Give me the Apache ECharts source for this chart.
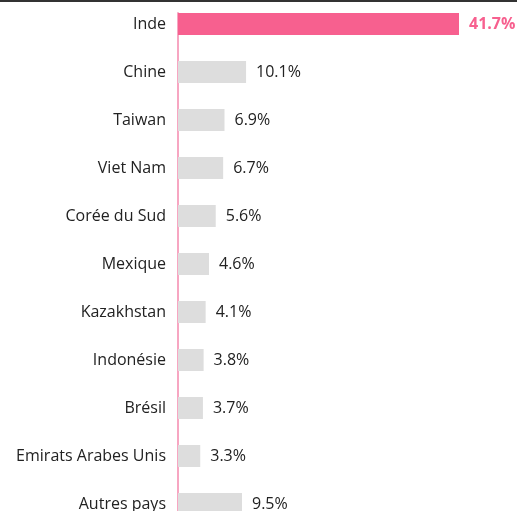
<!DOCTYPE html>
<html><head><meta charset="utf-8">
<script src="https://cdn.jsdelivr.net/npm/echarts@6/dist/echarts.min.js"></script>
<style>html,body{margin:0;padding:0;background:#fff}#c{width:517px;height:511px}</style>
</head><body><div id="c"></div>
<script>
const categories = ["Inde","Chine","Taiwan","Viet Nam","Corée du Sud","Mexique","Kazakhstan","Indonésie","Brésil","Emirats Arabes Unis","Autres pays"];
const values = [41.7,10.1,6.9,6.7,5.6,4.6,4.1,3.8,3.7,3.3,9.5];
const highlight = "Inde";

const chart = echarts.init(document.getElementById('c'), null, {renderer:'canvas'});
const font = '"Open Sans", sans-serif';
chart.setOption({
  animation:false,
  grid:[
    {left:178, top:0, width:281, height:528, outerBoundsMode:'none', containLabel:false},
    {left:178, top:13, width:281, height:520, outerBoundsMode:'none', containLabel:false}
  ],
  xAxis:[
    {gridIndex:0, type:'value', min:0, max:41.7, show:false},
    {gridIndex:1, type:'value', min:0, max:1, show:false}
  ],
  yAxis:[
    {gridIndex:0, type:'category', data:categories, inverse:true,
     axisLine:{show:false}, axisTick:{show:false},
     axisLabel:{margin:12, color:'#222', fontSize:16, fontFamily:font}},
    {gridIndex:1, type:'value', min:0, max:1, axisLabel:{show:false}, axisTick:{show:false}, splitLine:{show:false},
     axisLine:{show:true, lineStyle:{color:'#f7a6c2', width:2}}}
  ],
  series:[{
    type:'bar', xAxisIndex:0, yAxisIndex:0, barWidth:22,
    data: values.map((v,i)=>({value:v,
      itemStyle:{color: categories[i]===highlight ? '#f7608f' : '#dddddd'},
      label: categories[i]===highlight ? {color:'#f7608f', fontWeight:'bold'} : {}
    })),
    label:{show:true, position:'right', distance:10, color:'#222', fontSize:16, fontFamily:font,
      formatter:p=>p.value.toFixed(1)+'%'}
  }],
  graphic:[{type:'line', shape:{x1:0,y1:1,x2:517,y2:1}, style:{stroke:'#333', lineWidth:2}}]
});
</script></body></html>
